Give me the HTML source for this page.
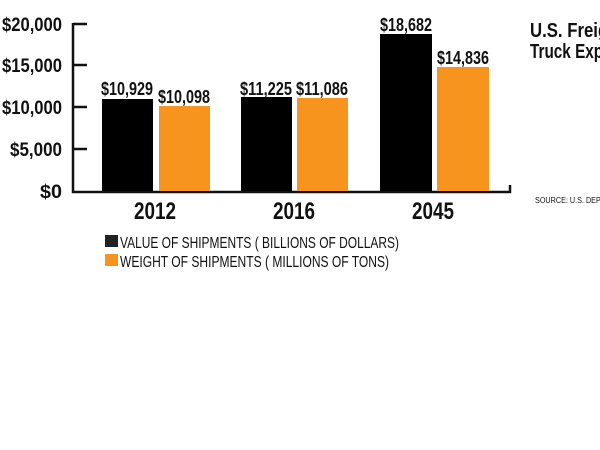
<!DOCTYPE html>
<html><head><meta charset="utf-8"><style>
html,body{margin:0;padding:0;background:#fff;width:600px;height:450px;overflow:hidden}
text{font-family:"Liberation Sans Narrow","Liberation Sans",sans-serif;font-weight:bold;fill:#111}
</style></head><body>
<svg width="600" height="450" viewBox="0 0 600 450" xmlns="http://www.w3.org/2000/svg">
<g stroke="#111" stroke-width="2.5" fill="none">
<path d="M73,23 V192 H510 V185"/>
<path d="M73,24 H87 M73,65 H87 M73,107 H87 M73,149 H87"/>
</g>
<g font-size="19" text-anchor="end">
<text x="62" y="31" textLength="60" lengthAdjust="spacingAndGlyphs">$20,000</text>
<text x="62" y="72" textLength="60" lengthAdjust="spacingAndGlyphs">$15,000</text>
<text x="62" y="114" textLength="60" lengthAdjust="spacingAndGlyphs">$10,000</text>
<text x="62" y="156" textLength="52" lengthAdjust="spacingAndGlyphs">$5,000</text>
<text x="62" y="198" textLength="22" lengthAdjust="spacingAndGlyphs">$0</text>
</g>
<rect x="102" y="99" width="51" height="92" fill="#000"/>
<rect x="159" y="106" width="51" height="85" fill="#f7941d"/>
<rect x="241" y="97" width="51" height="94" fill="#000"/>
<rect x="297" y="98" width="51" height="93" fill="#f7941d"/>
<rect x="380" y="34" width="52" height="157" fill="#000"/>
<rect x="437" y="67" width="52" height="124" fill="#f7941d"/>
<g font-size="18" text-anchor="middle">
<text x="127" y="95" textLength="52" lengthAdjust="spacingAndGlyphs">$10,929</text>
<text x="184" y="103" textLength="52" lengthAdjust="spacingAndGlyphs">$10,098</text>
<text x="266" y="95" textLength="52" lengthAdjust="spacingAndGlyphs">$11,225</text>
<text x="322" y="95" textLength="52" lengthAdjust="spacingAndGlyphs">$11,086</text>
<text x="406" y="31" textLength="52" lengthAdjust="spacingAndGlyphs">$18,682</text>
<text x="463" y="64" textLength="52" lengthAdjust="spacingAndGlyphs">$14,836</text>
</g>
<g font-size="24" text-anchor="middle">
<text x="155" y="219" textLength="42" lengthAdjust="spacingAndGlyphs">2012</text>
<text x="294" y="219" textLength="42" lengthAdjust="spacingAndGlyphs">2016</text>
<text x="433" y="219" textLength="42" lengthAdjust="spacingAndGlyphs">2045</text>
</g>
<rect x="105" y="235" width="13" height="12" fill="#222"/>
<rect x="105" y="254" width="13" height="12" fill="#f7941d"/>
<g font-size="16">
<text x="120" y="248" style="font-weight:normal" textLength="279" lengthAdjust="spacingAndGlyphs">VALUE OF SHIPMENTS ( BILLIONS OF DOLLARS)</text>
<text x="120" y="267" style="font-weight:normal" textLength="269" lengthAdjust="spacingAndGlyphs">WEIGHT OF SHIPMENTS ( MILLIONS OF TONS)</text>
</g>
<g font-size="20">
<text x="530" y="37" textLength="94" lengthAdjust="spacingAndGlyphs">U.S. Freight</text>
<text x="530" y="58" textLength="142" lengthAdjust="spacingAndGlyphs">Truck Expenditures</text>
</g>
<text x="535" y="203" font-size="8" style="font-weight:normal" textLength="100" lengthAdjust="spacingAndGlyphs">SOURCE: U.S. DEPARTMENT</text>
</svg>
</body></html>
